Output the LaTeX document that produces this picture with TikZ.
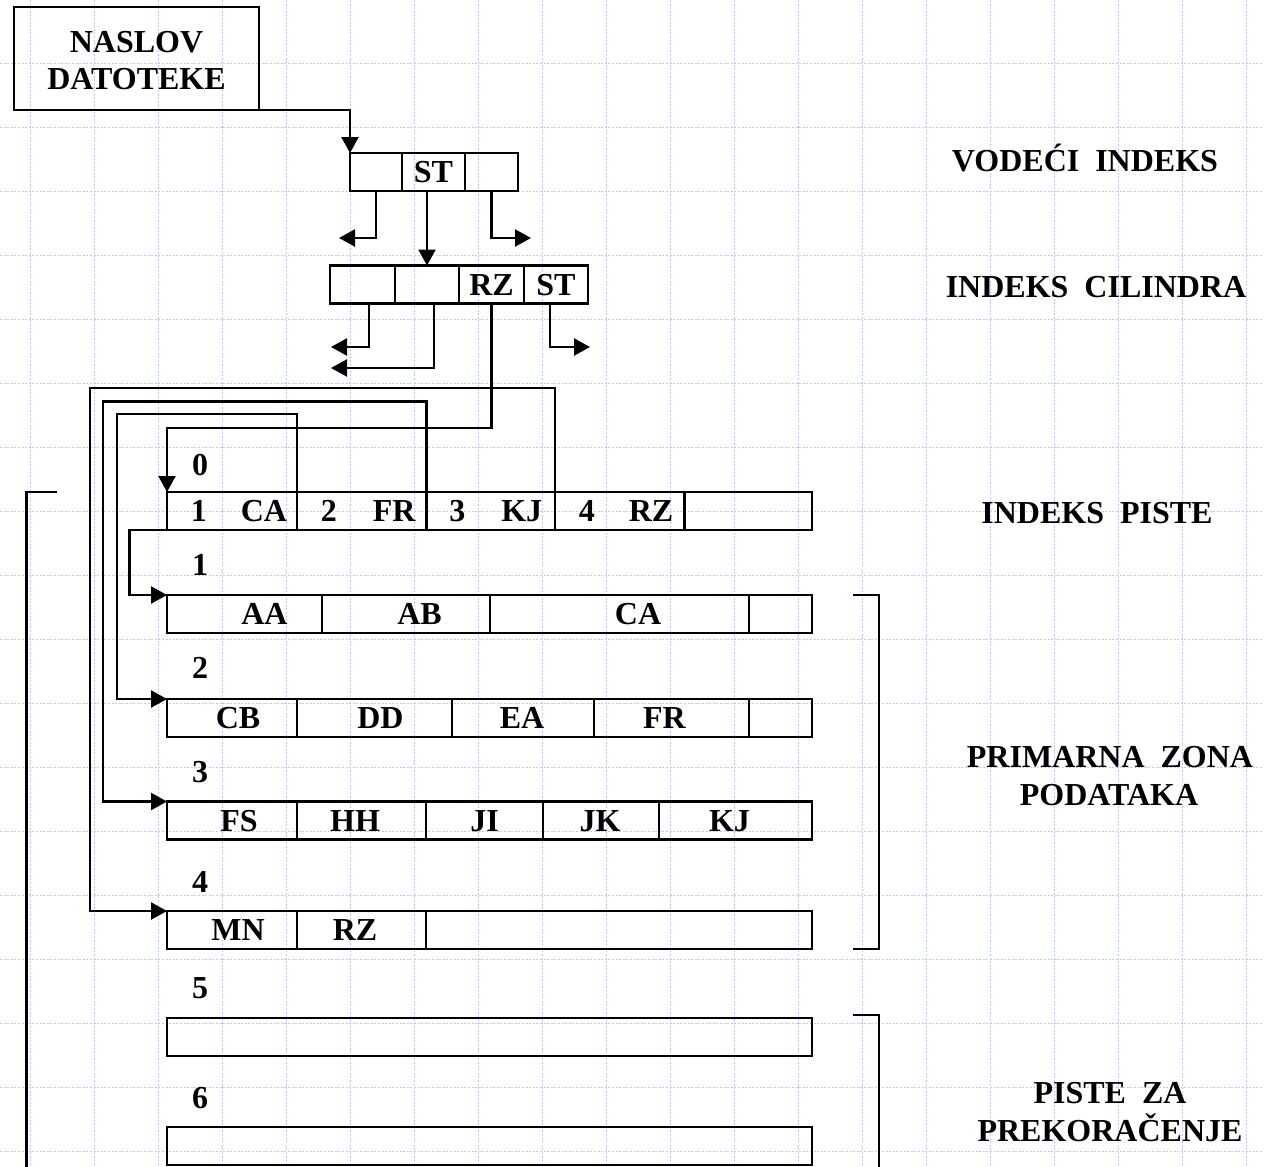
\documentclass[tikz,border=0pt]{standalone}
\usepackage{fontspec}
\setmainfont{Liberation Serif}
\usetikzlibrary{arrows.meta}
\newcommand\lab{\fontsize{32}{37}\selectfont\bfseries}
\newcommand\Cel[4]{\node[cell, minimum width={(#3)-(#2)}] (#1) at ({((#2)+(#3))/2},#4) {};}
\newcommand\CelT[6]{\node[cell, minimum width={(#3)-(#2)}, label={[txt,xshift=#6]center:#5}] (#1) at ({((#2)+(#3))/2},#4) {};}
\definecolor{gridc}{RGB}{188,203,245}
\begin{document}
\begin{tikzpicture}[x=1pt,y=-1pt,line width=2.3pt,line join=miter,
  cell/.style={draw, line width=2.3pt, minimum height=38pt, inner sep=0pt, outer sep=0pt},
  txt/.style={font=\lab, inner sep=0pt, text height=21pt, text depth=0pt},
  box/.style={draw, line width=2.3pt, minimum width=245pt, minimum height=103pt, align=center, font=\lab, inner sep=0pt, outer sep=0pt},
  arr/.style={-{Triangle[length=16pt,width=17pt]}},
  gridl/.style={draw=gridc, line width=1.3pt, dash pattern=on 2pt off 1.6pt}]
\useasboundingbox (0,0) rectangle (1264,1167);
\fill[white] (0,0) rectangle (1264,1167);
\clip (0,0) rectangle (1264,1167);
% background grid
\foreach \k in {0,...,19} \draw[gridl] ({30.6+64*\k},0) -- ({30.6+64*\k},1167);
\foreach \k in {1,...,18} \draw[gridl] (0,{64*\k-0.5}) -- (1264,{64*\k-0.5});

% file header
\node[box] (naslov) at (136.5,58.5) {\rule{0pt}{26pt}NASLOV\\DATOTEKE};

% leading index
\Cel{v1}{350}{402}{172}
\CelT{v2}{402}{465}{172}{ST}{0}
\Cel{v3}{465}{518}{172}

% cylinder index
\Cel{c1}{330}{395}{284.5}
\Cel{c2}{395}{459}{284.5}
\CelT{c3}{459}{524}{284.5}{RZ}{0}
\CelT{c4}{524}{588}{284.5}{ST}{0}

% track index (track 0)
\CelT{tA}{167}{297}{511}{1\hspace{34pt}CA}{7}
\CelT{tB}{297}{426.5}{511}{2\hspace{36pt}FR}{6.5}
\CelT{tC}{426.5}{555}{511}{3\hspace{36pt}KJ}{5}
\CelT{tD}{555}{684.5}{511}{4\hspace{34pt}RZ}{6.3}
\Cel{tE}{684.5}{812}{511}

% track 1
\CelT{r1a}{167}{322}{614}{AA}{20}
\CelT{r1b}{322}{490}{614}{AB}{13.5}
\CelT{r1c}{490}{749}{614}{CA}{18.5}
\Cel{r1d}{749}{812}{614}

% track 2
\CelT{r2a}{167}{297}{718}{CB}{6}
\CelT{r2b}{297}{452}{718}{DD}{6}
\CelT{r2c}{452}{594}{718}{EA}{-1}
\CelT{r2d}{594}{749}{718}{FR}{-7}
\Cel{r2e}{749}{812}{718}

% track 3
\CelT{r3a}{167}{297}{820.5}{FS}{7}
\CelT{r3b}{297}{426}{820.5}{HH}{-6.5}
\CelT{r3c}{426}{543}{820.5}{JI}{0}
\CelT{r3d}{543}{659}{820.5}{JK}{-1}
\CelT{r3e}{659}{812}{820.5}{KJ}{-6}

% track 4
\CelT{r4a}{167}{297}{930}{MN}{6}
\CelT{r4b}{297}{426}{930}{RZ}{-6.5}
\Cel{r4c}{426}{812}{930}

% overflow tracks
\Cel{r5}{167}{812}{1037}
\Cel{r6}{167}{812}{1146}

% track numbers
\node[txt] (n0) at (200,464.5) {0};
\node[txt] (n1) at (200,565) {1};
\node[txt] (n2) at (200,668) {2};
\node[txt] (n3) at (200,772) {3};
\node[txt] (n4) at (200,881.5) {4};
\node[txt] (n5) at (200,988) {5};
\node[txt] (n6) at (200,1098) {6};

% right-hand labels
\node[txt] (lv) at (1085,161) {VODEĆI\hspace{16pt}INDEKS};
\node[txt] (lc) at (1096,286.5) {INDEKS\hspace{16pt}CILINDRA};
\node[txt] (lp) at (1097,512.5) {INDEKS\hspace{16pt}PISTE};
\node[txt] (lz1) at (1110,757) {PRIMARNA\hspace{16pt}ZONA};
\node[txt] (lz2) at (1109,795) {PODATAKA};
\node[txt] (lo1) at (1110,1093) {PISTE\hspace{16pt}ZA};
\node[txt] (lo2) at (1110,1131) {PREKORAČENJE};

% free ends and bends
\coordinate (v1end) at (339,238);
\coordinate (v3end) at (531,238);
\coordinate (c1end) at (331,347);
\coordinate (c2end) at (331,368);
\coordinate (c4end) at (590,347);
\coordinate (rzbend) at (491.5,428);
\coordinate (bend1) at (129.4,530);
\coordinate (bend2) at (117,414);
\coordinate (bend3) at (103,401.5);
\coordinate (bend4) at (90,388);

% connectors
\draw[arr] (naslov.south east) -| (v1.north west);
\draw[arr] (v1.south) |- (v1end);
\draw[arr] (c2.north |- v2.south) -- (c2.north);
\draw[arr] (v3.south) |- (v3end);
\draw[arr] ([xshift=6.5]c1.south) |- (c1end);
\draw[arr] ([xshift=7]c2.south) |- (c2end);
\draw[arr] ([xshift=-6]c4.south) |- (c4end);
\draw[arr] (c3.south) -- (rzbend) -| (tA.north west);
\draw[arr] (tA.south west) -- (bend1) |- (r1a.north west);
\draw[arr] (tB.north west) |- (bend2) |- (r2a.north west);
\draw[arr] (tC.north west) |- (bend3) |- (r3a.north west);
\draw[arr] (tD.north west) |- (bend4) |- (r4a.north west);

% brackets and left line
\draw (853,595) -| (878.7,949) -- (853,949);
\draw (853,1015) -| (878.7,1180);
\draw (57,492) -| (26.5,1180);
\end{tikzpicture}
\end{document}
